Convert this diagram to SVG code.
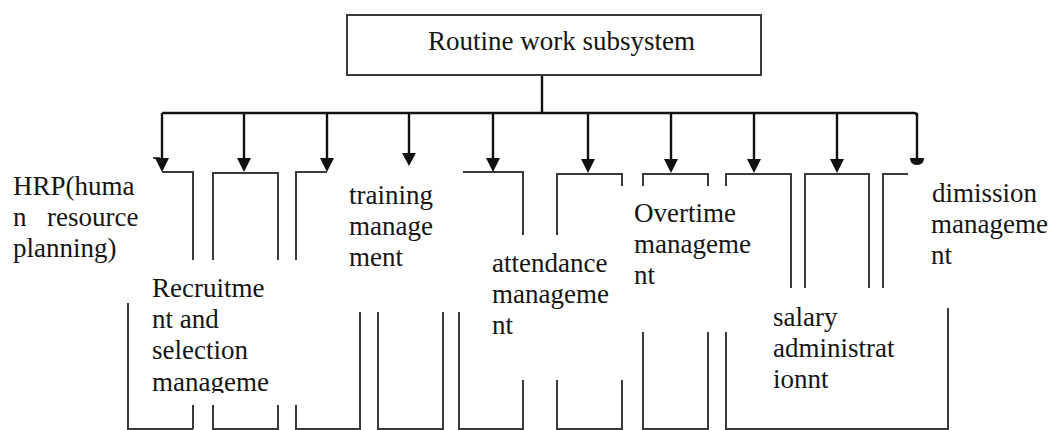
<svg xmlns="http://www.w3.org/2000/svg" width="1050" height="430" viewBox="0 0 1050 430">
<style>
text{font-family:"Liberation Serif","Times New Roman",serif;font-size:27px;fill:#151515}
.b{fill:none;stroke:#3a3a3a;stroke-width:2}
.c{fill:none;stroke:#111;stroke-width:2.4}
.h{fill:#111}
</style>
<defs>
<clipPath id="clipR"><rect x="0" y="0" width="1050" height="393"/></clipPath>
</defs>
<rect width="1050" height="430" fill="#fff"/>

<g id="connectors">
<path class="c" d="M542,75 V113"/>
<path class="c" d="M162,113 H914 Q917,113 917,116"/>
<path class="c" d="M162,113 V159"/><path class="h" d="M155,158 H169 L162,172 Z"/>
<path d="M153,158 H160" stroke="#111" stroke-width="1.5"/>
<path class="c" d="M244,113 V159"/><path class="h" d="M237,158 H251 L244,172 Z"/>
<path class="c" d="M327,113 V159"/><path class="h" d="M320,158 H334 L327,172 Z"/>
<path class="c" d="M409,113 V154"/><path class="h" d="M402,153 H416 L409,166 Z"/>
<path class="c" d="M493,113 V159"/><path class="h" d="M486,158 H500 L493,172 Z"/>
<path class="c" d="M588,113 V160"/><path class="h" d="M581,159 H595 L588,173 Z"/>
<path class="c" d="M671,113 V160"/><path class="h" d="M664,159 H678 L671,173 Z"/>
<path class="c" d="M754,113 V160"/><path class="h" d="M747,159 H761 L754,173 Z"/>
<path class="c" d="M837,113 V160"/><path class="h" d="M830,159 H844 L837,173 Z"/>
<path class="c" d="M917,113 V159"/><path class="h" d="M910,158 H924 Q924,165 917,165 Q910,165 910,158 Z"/>
</g>

<g id="root">
<rect x="347" y="15" width="414" height="60" class="b"/>
<text x="428" y="50">Routine work subsystem</text>
</g>

<g id="hrp">
<path class="b" d="M162,172 H193 V260 M193,405 V429 M128,303 V429 H193"/>
<text x="13" y="195">HRP(huma</text>
<text x="13" y="226">n</text>
<text x="47" y="226">resource</text>
<text x="13" y="257">planning)</text>
</g>

<g id="recruitment">
<path class="b" d="M213,260 V173 H278 V260 M213,405 V429 H278 V405"/>
<g clip-path="url(#clipR)">
<text x="152" y="297">Recruitme</text>
<text x="152" y="328">nt and</text>
<text x="152" y="359">selection</text>
<text x="152" y="391">manageme</text>
</g>
</g>

<g id="training">
<path class="b" d="M296,260 V172 H327 M296,405 V429 H360 V312 M378,312 V429 H443 V312"/>
<text x="349" y="204">training</text>
<text x="349" y="235">manage</text>
<text x="349" y="266">ment</text>
</g>

<g id="attendance">
<path class="b" d="M463,172 H523 V235 M459,312 V429 H523 V380 M557,235 V174 H622 V186 M557,380 V429 H622 V380"/>
<text x="492" y="272">attendance</text>
<text x="492" y="303">manageme</text>
<text x="492" y="334">nt</text>
</g>

<g id="overtime">
<path class="b" d="M643,186 V174 H708 V186 M643,332 V429 H708 V332"/>
<text x="634" y="222">Overtime</text>
<text x="634" y="253">manageme</text>
<text x="634" y="284">nt</text>
</g>

<g id="salary">
<path class="b" d="M726,186 V174 H791 V288 M805,288 V174 H869 V288 M726,332 V429 H948 V308"/>
<text x="773" y="326">salary</text>
<text x="773" y="357">administrat</text>
<text x="773" y="388">ionnt</text>
</g>

<g id="dimission">
<path class="b" d="M908,174 H883 V288"/>
<text x="932" y="202">dimission</text>
<text x="931" y="233">manageme</text>
<text x="931" y="264">nt</text>
</g>
</svg>
